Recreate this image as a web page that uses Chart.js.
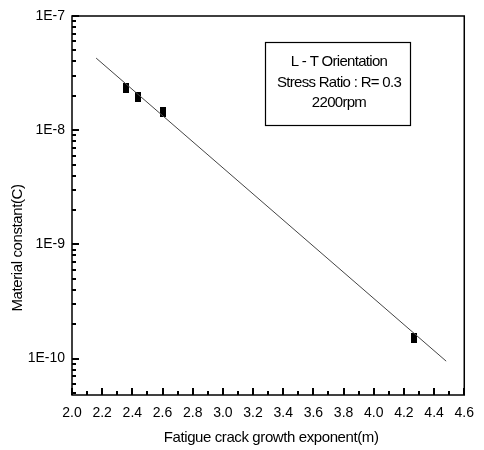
<!DOCTYPE html>
<html>
<head>
<meta charset="utf-8">
<script src="https://cdn.jsdelivr.net/npm/chart.js@4.4.1/dist/chart.umd.min.js"></script>
<style>
  html, body { margin: 0; padding: 0; background: #fff; }
  #wrap { width: 484px; height: 450px; position: relative; }
</style>
</head>
<body>
<div id="wrap"><canvas id="chart"></canvas></div>
<script>
// Measured points: fatigue crack growth exponent (m) vs material constant (C)
const exponentM = [2.36, 2.44, 2.60, 4.27];
const constantC = [2.33e-8, 1.96e-8, 1.45e-8, 1.52e-10];

// Fitted line end points
const fitM = [2.16, 4.48];
const fitC = [4.28e-8, 9.5e-11];

// Axis settings
const xMin = 2.0, xMax = 4.6;
const yMin = 4.8e-11, yMax = 1e-7;
const yDecades = [-11, -10, -9, -8, -7];
const yLabels = { '-7': '1E-7', '-8': '1E-8', '-9': '1E-9', '-10': '1E-10' };

const legendLines = ['L - T Orientation', 'Stress Ratio : R= 0.3', '2200rpm'];

const FONT = "'Liberation Sans', Arial, sans-serif";

// Small filled rectangle marker like the original symbol
function makeMarker() {
  const c = document.createElement('canvas');
  c.width = 6;
  c.height = 10;
  const g = c.getContext('2d');
  g.fillStyle = '#000';
  g.fillRect(0, 0, 6, 10);
  return c;
}

const frame = {
  id: 'frame',
  afterDraw(chart) {
    const { ctx, chartArea: a, scales } = chart;
    ctx.save();
    ctx.strokeStyle = '#000';
    ctx.lineWidth = 1.5;
    ctx.strokeRect(a.left, a.top, a.right - a.left, a.bottom - a.top);

    // inward ticks on the x axis (every 0.1, long ones every 0.2)
    ctx.fillStyle = '#000';
    for (let i = 0; i <= Math.round((xMax - xMin) * 10); i++) {
      const v = xMin + i / 10;
      const px = Math.round(scales.x.getPixelForValue(v));
      const len = i % 2 === 0 ? 7 : 4;
      ctx.fillRect(px - 1, a.bottom - len, 2, len);
    }
    // inward ticks on the y axis (1..9 in each decade)
    yDecades.forEach(d => {
      for (let k = 1; k <= 9; k++) {
        const v = k * Math.pow(10, d);
        if (v < yMin * 0.999 || v > yMax * 1.001) continue;
        const py = Math.round(scales.y.getPixelForValue(v));
        const len = k === 1 ? 7 : 4;
        ctx.fillRect(a.left, py - 1, len, 2);
      }
    });

    // axis titles
    ctx.font = '15px ' + FONT;
    ctx.letterSpacing = '-0.4px';
    ctx.textAlign = 'center';
    ctx.textBaseline = 'middle';
    ctx.fillText('Fatigue crack growth exponent(m)', (a.left + a.right) / 2 + 3, 438);
    ctx.save();
    ctx.translate(18, 248);
    ctx.rotate(-Math.PI / 2);
    ctx.fillText('Material constant(C)', 0, 0);
    ctx.restore();

    // legend box
    ctx.lineWidth = 1.2;
    ctx.strokeRect(265.5, 42.5, 145, 83);
    ctx.letterSpacing = '-0.7px';
    const ys = [62, 83, 103];
    legendLines.forEach((s, i) => ctx.fillText(s, 339, ys[i]));
    ctx.restore();
  }
};

new Chart(document.getElementById('chart'), {
  type: 'scatter',
  data: {
    datasets: [
      {
        label: 'fit',
        data: fitM.map((m, i) => ({ x: m, y: fitC[i] })),
        showLine: true,
        borderColor: '#444',
        borderWidth: 1,
        pointRadius: 0,
        fill: false,
      },
      {
        label: 'data',
        data: exponentM.map((m, i) => ({ x: m, y: constantC[i] })),
        pointStyle: makeMarker(),
        pointRadius: 5,
        backgroundColor: '#000',
        borderColor: '#000',
      },
    ],
  },
  options: {
    responsive: true,
    maintainAspectRatio: false,
    animation: false,
    layout: { padding: { top: 16, right: 11, left: 0, bottom: 0 } },
    plugins: {
      legend: { display: false },
      tooltip: { enabled: false },
    },
    scales: {
      x: {
        type: 'linear',
        min: xMin,
        max: xMax,
        grid: { display: false, drawTicks: false },
        border: { display: false },
        ticks: {
          stepSize: 0.2,
          autoSkip: false,
          maxRotation: 0,
          padding: 10,
          color: '#000',
          font: { family: FONT, size: 14 },
          callback: v => v.toFixed(1),
        },
        afterFit: s => { s.height = 55; },
      },
      y: {
        type: 'logarithmic',
        min: yMin,
        max: yMax,
        grid: { display: false, drawTicks: false },
        border: { display: false },
        ticks: {
          autoSkip: false,
          padding: 7,
          color: '#000',
          font: { family: FONT, size: 14 },
          callback: v => {
            const lg = Math.log10(v);
            const r = Math.round(lg);
            return Math.abs(lg - r) < 1e-6 ? (yLabels[String(r)] || '') : '';
          },
        },
        afterFit: s => { s.width = 72; },
      },
    },
  },
  plugins: [frame],
});
</script>
</body>
</html>
